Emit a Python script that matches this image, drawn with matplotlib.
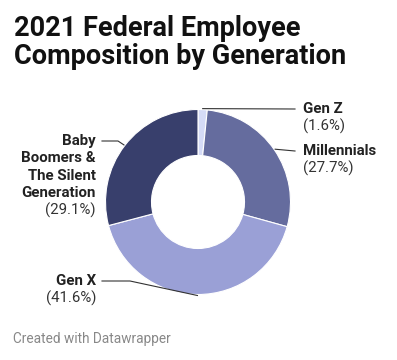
import numpy as np
import matplotlib.pyplot as plt

plt.rcParams['font.family'] = ['Roboto', 'DejaVu Sans']

labels = ['Gen Z', 'Millennials', 'Gen X', 'Baby\nBoomers &\nThe Silent\nGeneration']
shares = [1.6, 27.7, 41.6, 29.1]
colors = ['#d5dbf6', '#656c9e', '#9aa0d6', '#383f6c']

W, H = 397, 360
fig = plt.figure(figsize=(W / 100, H / 100), dpi=100)
ax = fig.add_axes([0, 0, 1, 1])

cx, cy, R = 198, 360 - 202, 92.5
wedges, _ = ax.pie(shares, colors=colors, startangle=90, counterclock=False,
                   radius=R, center=(cx, cy), frame=True,
                   wedgeprops=dict(width=46, edgecolor='white', linewidth=0.8))
ax.set_xlim(0, W)
ax.set_ylim(0, H)
ax.set_aspect('equal')
ax.axis('off')

# label placement: (text x, first line y in px from top, alignment, elbow x)
place = [
    (303, 109, 'left', None),
    (303, 151, 'left', None),
    (96, 281, 'right', 130),
    (96, 141, 'right', 118),
]
step = 17.4

for w, lab, val, (tx, ty, ha, elbow) in zip(wedges, labels, shares, place):
    ang = np.deg2rad((w.theta1 + w.theta2) / 2)
    px, py = cx + (R + 1) * np.cos(ang), cy + (R + 1) * np.sin(ang)
    y = H - ty
    if ha == 'left':
        ax.plot([px, tx - 8], [py, y], color='#333333', lw=0.8)
    else:
        ax.plot([tx + 6, elbow, px], [y, y, py], color='#333333', lw=0.8)
    lines = lab.split('\n')
    for i, s in enumerate(lines):
        ax.text(tx, y - step * i, s, ha=ha, va='center', fontsize=10.8,
                fontweight='bold', color='#222222')
    ax.text(tx, y - step * len(lines), '(%.1f%%)' % val, ha=ha, va='center',
            fontsize=10.8, color='#333333')

fig.text(14 / W, 1 - 28 / H, '2021 Federal Employee', fontsize=19.5,
         fontweight='bold', color='#111111', va='center')
fig.text(14 / W, 1 - 56 / H, 'Composition by Generation', fontsize=19.5,
         fontweight='bold', color='#111111', va='center')
fig.text(13 / W, 1 - 339 / H, 'Created with Datawrapper', fontsize=9.8,
         color='#888888', va='center')

fig.savefig('out.png', dpi=100, facecolor='white')
